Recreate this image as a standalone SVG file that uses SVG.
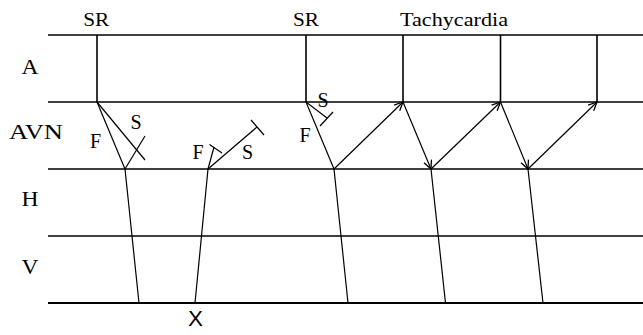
<svg xmlns="http://www.w3.org/2000/svg" width="643" height="335" viewBox="0 0 643 335">
<style>
.ln{stroke:#000;stroke-width:1.6;fill:none;stroke-linecap:butt}
.th{stroke:#000;stroke-width:1.2;fill:none}
.sf{font-family:"Times New Roman","Liberation Serif","DejaVu Serif",serif;fill:#000;text-anchor:middle}
.lab{font-size:20px}
.row{font-size:22px}
.top{font-size:19px}
.x{font-family:Arial,"Liberation Sans",sans-serif;font-size:22px;fill:#000;text-anchor:middle}
</style>
<defs>
<marker id="ah" viewBox="0 0 10 10" refX="9.5" refY="5" markerWidth="10" markerHeight="10" markerUnits="userSpaceOnUse" orient="auto">
<path d="M1,1 L9.5,5 L1,9" fill="none" stroke="#000" stroke-width="1.3"/>
</marker>
</defs>
<rect width="643" height="335" fill="#fff"/>
<g id="grid">
<line class="ln" x1="48" y1="35" x2="643" y2="35"/>
<line class="ln" x1="48" y1="102" x2="643" y2="102"/>
<line class="ln" x1="48" y1="169" x2="643" y2="169"/>
<line class="ln" x1="48" y1="236" x2="643" y2="236" style="stroke-width:1.3"/>
<line class="ln" x1="48" y1="303" x2="643" y2="303" style="stroke-width:2"/>
</g>
<g id="labels">
<text class="sf row" x="30" y="74" textLength="17" lengthAdjust="spacingAndGlyphs">A</text>
<text class="sf row" x="36" y="139" textLength="54" lengthAdjust="spacingAndGlyphs">AVN</text>
<text class="sf row" x="30" y="206" textLength="17" lengthAdjust="spacingAndGlyphs">H</text>
<text class="sf row" x="30" y="274" textLength="17" lengthAdjust="spacingAndGlyphs">V</text>
<text class="sf top" x="96.3" y="26" textLength="26" lengthAdjust="spacingAndGlyphs">SR</text>
<text class="sf top" x="306" y="26" textLength="26" lengthAdjust="spacingAndGlyphs">SR</text>
<text class="sf top" x="454" y="26" textLength="108" lengthAdjust="spacingAndGlyphs">Tachycardia</text>
<text class="x" x="195.5" y="325.5" textLength="15" lengthAdjust="spacingAndGlyphs">X</text>
</g>
<g id="beat1">
<line class="ln" x1="97" y1="35" x2="97" y2="102"/>
<line class="th" x1="97" y1="102" x2="125" y2="169"/>
<line class="th" x1="97" y1="102" x2="145" y2="160"/>
<line class="th" x1="125" y1="169" x2="145" y2="136"/>
<text class="sf lab" x="136" y="129">S</text>
<text class="sf lab" x="95.5" y="148">F</text>
<line class="th" x1="125" y1="169" x2="139" y2="303"/>
</g>
<g id="beat2">
<line class="th" x1="208" y1="169" x2="214" y2="147"/>
<line class="th" x1="209.5" y1="144.5" x2="222" y2="153"/>
<line class="th" x1="208" y1="169" x2="257" y2="127"/>
<line class="th" x1="251" y1="120" x2="264" y2="135"/>
<text class="sf lab" x="198" y="159">F</text>
<text class="sf lab" x="247.5" y="159">S</text>
<line class="th" x1="208" y1="169" x2="195" y2="303"/>
</g>
<g id="beat3">
<line class="ln" x1="306" y1="35" x2="306" y2="102"/>
<line class="th" x1="306" y1="102" x2="334" y2="169"/>
<line class="th" x1="306" y1="102" x2="327" y2="118"/>
<line class="th" x1="320" y1="126" x2="333" y2="112"/>
<text class="sf lab" x="323" y="107">S</text>
<text class="sf lab" x="305" y="142">F</text>
<line class="th" x1="334" y1="169" x2="348" y2="303"/>
</g>
<g id="tachy">
<line class="ln" x1="403" y1="35" x2="403" y2="102"/>
<line class="ln" x1="500.5" y1="35" x2="500.5" y2="102"/>
<line class="ln" x1="597" y1="35" x2="597" y2="102"/>
<line class="th" x1="431" y1="169" x2="445.5" y2="303"/>
<line class="th" x1="528" y1="169" x2="543" y2="303"/>
</g>
<g id="connectors">
<line class="th" x1="334" y1="169" x2="403" y2="102" marker-end="url(#ah)"/>
<line class="th" x1="403" y1="102" x2="431" y2="169" marker-end="url(#ah)"/>
<line class="th" x1="431" y1="169" x2="500.5" y2="102" marker-end="url(#ah)"/>
<line class="th" x1="500.5" y1="102" x2="528" y2="169" marker-end="url(#ah)"/>
<line class="th" x1="528" y1="169" x2="597" y2="102" marker-end="url(#ah)"/>
</g>
</svg>
